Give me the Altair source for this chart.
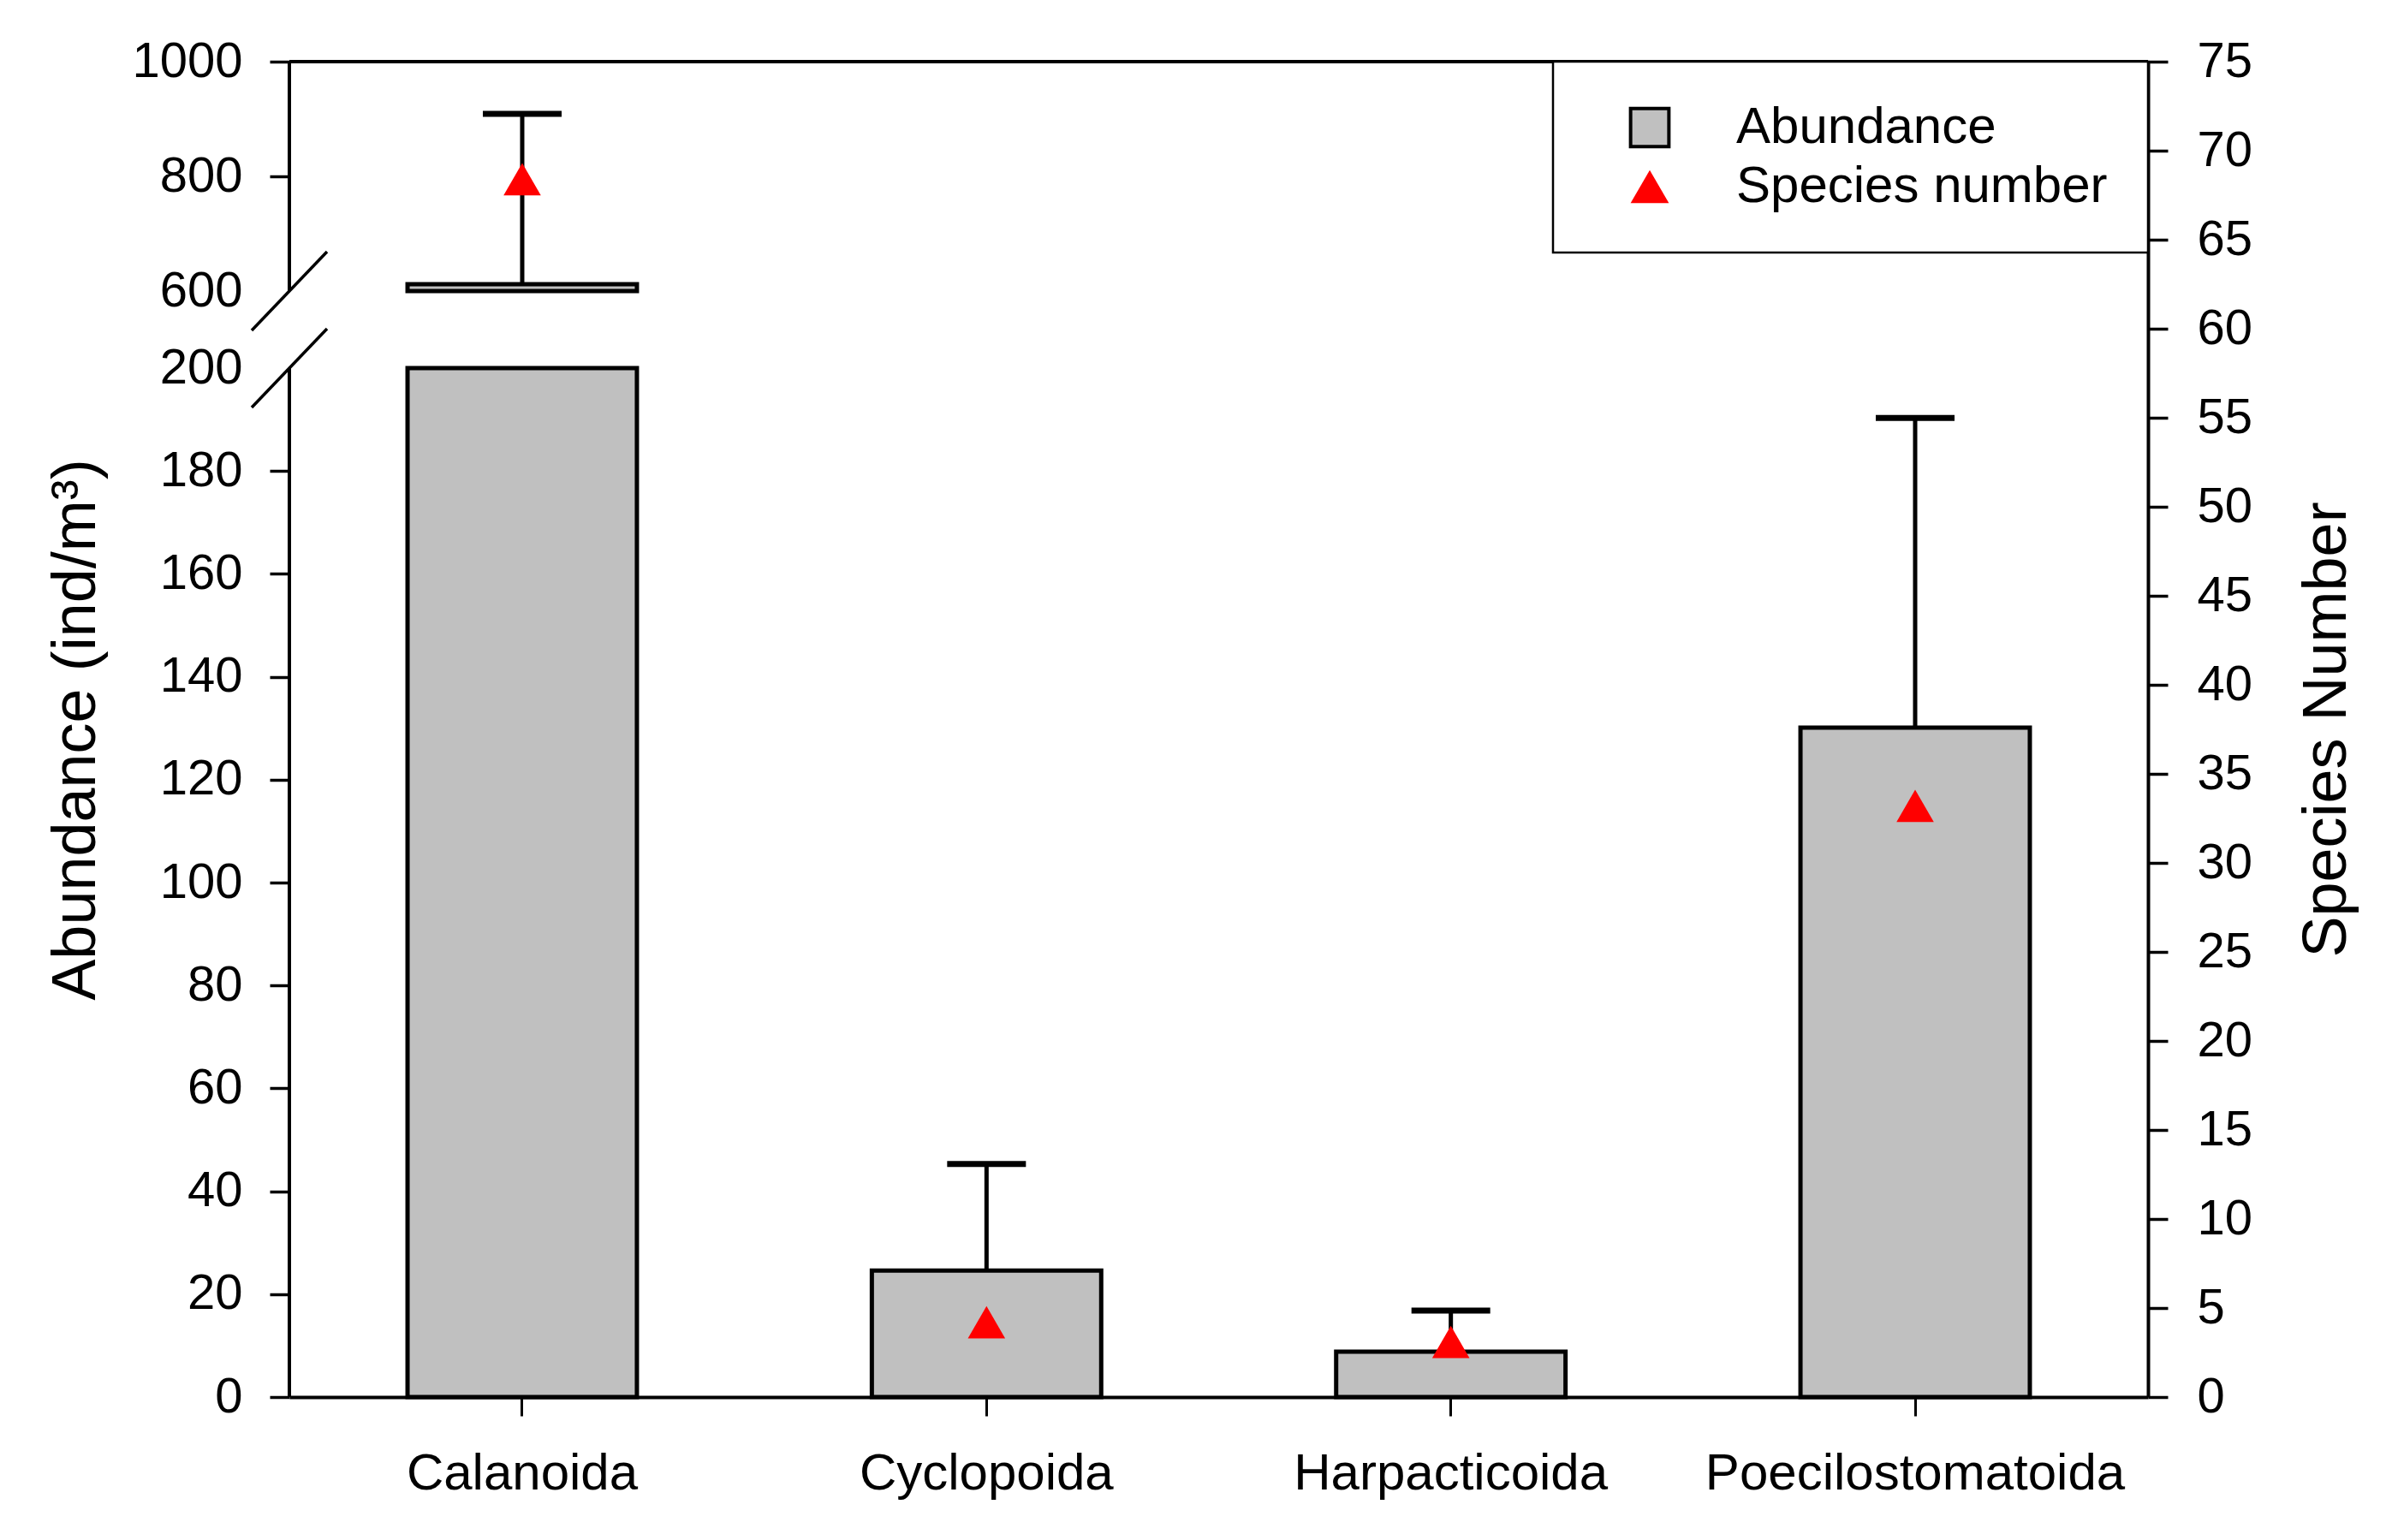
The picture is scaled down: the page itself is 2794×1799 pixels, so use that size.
import altair as alt
import pandas as pd

# ---------------- data ----------------
categories = ["Calanoida", "Cyclopoida", "Harpacticoida", "Poecilostomatoida"]
abundance = [612.0, 24.6, 8.8, 130.1]          # ind/m3 (bar height)
abundance_sd = [297.0, 20.7, 8.0, 60.2]        # upper error
species = [68.4, 4.2, 3.1, 33.2]               # species number (right axis)

break_low = 200
break_high = 600
y_top = 1000
left_ticks = [0, 20, 40, 60, 80, 100, 120, 140, 160, 180, 200, 600, 800, 1000]
right_ticks = list(range(0, 80, 5))
series_names = ["Abundance", "Species number"]

# ---------------- layout ----------------
W, H = 2171, 1560
LOWER_PX = 1202
GAP_PX = 90
FONT = "Liberation Sans"

# ---------------- tables ----------------
seg_rows = []
for c, v in zip(categories, abundance):
    if v > break_low:
        seg_rows.append({"cat": c, "y0": 0, "y1": break_low, "series": series_names[0]})
        seg_rows.append({"cat": c, "y0": break_high, "y1": v, "series": series_names[0]})
    else:
        seg_rows.append({"cat": c, "y0": 0, "y1": v, "series": series_names[0]})
bars_df = pd.DataFrame(seg_rows)
err_df = pd.DataFrame({"cat": categories, "top": abundance,
                       "hi": [a + s for a, s in zip(abundance, abundance_sd)]})
sp_df = pd.DataFrame({"cat": categories, "sp": species, "series": series_names[1]})
axis_seg_df = pd.DataFrame({"a": [0, break_high], "b": [break_low, y_top]})
brk_df = pd.DataFrame({"b": [break_low, break_high]})
top_df = pd.DataFrame({"v": [y_top]})

# ---------------- scales ----------------
xscale = alt.Scale(domain=categories, paddingInner=0.506, paddingOuter=0.2545)
yscale = alt.Scale(domain=[0, break_low, break_high, y_top],
                   range=[H, H - LOWER_PX, H - LOWER_PX - GAP_PX, 0],
                   nice=False, zero=False)
fill_scale = alt.Scale(domain=series_names, range=["#c0c0c0", "#ff0000"])
stroke_scale = alt.Scale(domain=series_names, range=["#000000", "transparent"])
shape_scale = alt.Scale(domain=series_names, range=["square", "triangle-up"])

leg = alt.Legend(title=None, orient="top-right", offset=0, symbolSize=2000,
                 symbolStrokeWidth=4, labelFontSize=60, labelFont=FONT,
                 labelColor="black", labelLimit=1000, labelOffset=71,
                 symbolOffset=36, rowPadding=8, padding=47,
                 strokeColor="black", fillColor="white")

xaxis = alt.Axis(title=None, labelFont=FONT, labelFontSize=60, labelColor="black",
                 labelPadding=38, labelAngle=0, labelLimit=1000, tickSize=22,
                 tickWidth=3, tickColor="black", domainColor="black",
                 domainWidth=4, grid=False)

yaxis = alt.Axis(values=left_ticks, format="d", title="Abundance (ind/m³)",
                 titleFont=FONT, titleFontSize=72, titleFontWeight="normal",
                 titleColor="black", titlePadding=28, labelFont=FONT,
                 labelFontSize=58, labelColor="black", labelPadding=32,
                 labelOverlap=False, tickSize=23, tickWidth=3.5,
                 tickColor="black", domain=False, grid=False,
                 tickOpacity={"condition": {"test": "datum.value == 200 || datum.value == 600",
                                            "value": 0}, "value": 1})

raxis = alt.Axis(orient="right", values=right_ticks, format="d",
                 title="Species Number", titleFont=FONT, titleFontSize=72,
                 titleFontWeight="normal", titleColor="black", titleAngle=270,
                 titleBaseline="top", titlePadding=52, labelFont=FONT,
                 labelFontSize=58, labelColor="black", labelPadding=34,
                 labelOverlap=False, tickSize=23, tickWidth=3.5,
                 tickColor="black", domainColor="black", domainWidth=4,
                 grid=False)


def X():
    return alt.X("cat:N", scale=xscale, sort=categories, axis=xaxis)


def Y(field):
    return alt.Y(field, scale=yscale, axis=yaxis)


# ---------------- layers (left scale) ----------------
bars = alt.Chart(bars_df).mark_bar(strokeWidth=5, opacity=1).encode(
    x=X(),
    y=Y("y0:Q"),
    y2="y1:Q",
    fill=alt.Fill("series:N", scale=fill_scale, legend=leg),
    stroke=alt.Stroke("series:N", scale=stroke_scale, legend=leg),
)

whisk = alt.Chart(err_df).mark_rule(strokeWidth=5, color="black").encode(
    x=X(),
    y=Y("top:Q"),
    y2="hi:Q",
)

caps = alt.Chart(err_df).mark_tick(size=92, thickness=7, color="black", opacity=1).encode(
    x=X(),
    y=Y("hi:Q"),
)

left_line = alt.Chart(axis_seg_df).mark_rule(strokeWidth=4, color="black").encode(
    x=alt.value(0),
    y=Y("a:Q"),
    y2="b:Q",
)

top_line = alt.Chart(top_df).mark_rule(strokeWidth=4, color="black").encode(
    x=alt.value(0), x2=alt.value(W),
    y=Y("v:Q"),
)

slashes = alt.Chart(brk_df).mark_rule(strokeWidth=3.5, color="black",
                                      yOffset=46, y2Offset=-46).encode(
    x=alt.value(-44), x2=alt.value(44),
    y=Y("b:Q"),
    y2="b:Q",
)

left = alt.layer(bars, whisk, caps, left_line, top_line, slashes)

# ---------------- right scale ----------------
pts = alt.Chart(sp_df).mark_point(filled=True, size=1900, strokeWidth=0, opacity=1).encode(
    x=X(),
    y=alt.Y("sp:Q", scale=alt.Scale(domain=[0, 75], nice=False, zero=True), axis=raxis),
    shape=alt.Shape("series:N", scale=shape_scale, legend=leg),
    fill=alt.Fill("series:N", scale=fill_scale, legend=leg),
    stroke=alt.Stroke("series:N", scale=stroke_scale, legend=leg),
)

chart = alt.layer(left, pts).resolve_scale(y="independent").properties(
    width=W, height=H,
    autosize=alt.AutoSizeParams(type="none"),
    padding={"left": 330, "top": 64, "right": 250, "bottom": 140},
).configure(font=FONT).configure_view(stroke=None).configure_legend(strokeWidth=2.5)

chart.save("out.html", embed_options={"renderer": "svg", "actions": False})
